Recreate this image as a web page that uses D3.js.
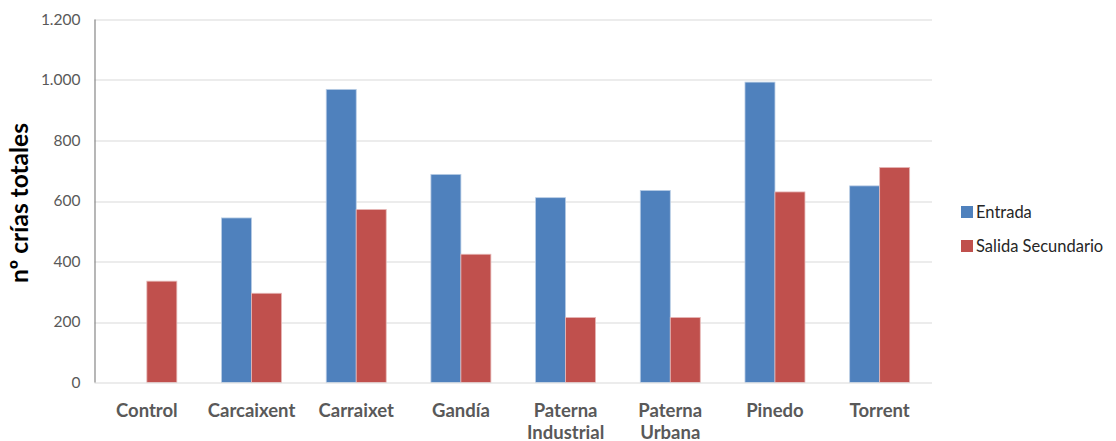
<!DOCTYPE html>
<html>
<head>
<meta charset="utf-8">
<script src="https://cdn.jsdelivr.net/npm/d3@7"></script>
<style>
  html, body { margin: 0; padding: 0; background: #fff; }
  svg { display: block; }
  text { font-family: Lato, "Open Sans", sans-serif; }
</style>
</head>
<body>
<svg id="chart" width="1116" height="441"></svg>
<script>
// Sites sampled and number of offspring per treatment
const categories = ["Control", "Carcaixent", "Carraixet", "Gandía", "Paterna Industrial", "Paterna Urbana", "Pinedo", "Torrent"];
const seriesNames = ["Entrada", "Salida Secundario"];
const entrada = [0, 544, 969, 688, 611, 635, 993, 650];
const salidaSecundario = [335, 295, 572, 424, 215, 215, 630, 711];
const yTicks = [0, 200, 400, 600, 800, 1000, 1200];
const colors = ["#4F81BD", "#C0504D"];

const svg = d3.select("#chart");
const margin = { left: 94.5, right: 1116 - 932, top: 19.5, bottom: 441 - 382.5 };
const width = 1116 - margin.left - margin.right;
const height = 441 - margin.top - margin.bottom;

const g = svg.append("g").attr("transform", `translate(${margin.left},${margin.top})`);

const x = d3.scaleBand().domain(categories).range([0, width]).paddingInner(0.427).paddingOuter(0.2135);
const xs = d3.scaleBand().domain(seriesNames).range([0, x.bandwidth()]);
const y = d3.scaleLinear().domain([0, 1200]).range([height, 0]);

const fmt = d => d3.format(",")(d).replace(/,/g, ".");

// gridlines
g.append("g")
  .selectAll("line")
  .data(yTicks.filter(d => d > 0))
  .join("line")
  .attr("x1", 0).attr("x2", width)
  .attr("y1", d => Math.round(y(d)) + 0.5).attr("y2", d => Math.round(y(d)) + 0.5)
  .attr("stroke", "#d9d9d9").attr("stroke-width", 1.2);

// y axis labels
const yAxis = g.append("g")
  .call(d3.axisLeft(y).tickValues(yTicks).tickFormat(fmt).tickSize(0).tickPadding(14));
yAxis.select(".domain").remove();
yAxis.selectAll("text")
  .attr("fill", "#595959")
  .style("font-size", "15.5px")
  .style("font-family", "Lato, sans-serif");

// bars
const data = categories.map((c, i) => ({ cat: c, values: [entrada[i], salidaSecundario[i]] }));
const groups = g.append("g").selectAll("g")
  .data(data)
  .join("g")
  .attr("transform", d => `translate(${x(d.cat)},0)`);
groups.selectAll("rect")
  .data(d => d.values.map((v, k) => ({ name: seriesNames[k], v, k })).filter(e => e.v > 0))
  .join("rect")
  .attr("x", e => xs(e.name))
  .attr("width", xs.bandwidth())
  .attr("y", e => y(e.v))
  .attr("height", e => height - y(e.v))
  .attr("fill", e => colors[e.k])
  .attr("stroke", e => e.k === 0 ? "#b9cde5" : "#e6b9b8")
  .attr("stroke-width", 0.8);

// axis lines
g.append("line")
  .attr("x1", 0).attr("x2", width)
  .attr("y1", height + 0.5).attr("y2", height + 0.5)
  .attr("stroke", "#d9d9d9").attr("stroke-width", 1.2);
g.append("line")
  .attr("x1", 0.5).attr("x2", 0.5)
  .attr("y1", 0).attr("y2", height)
  .attr("stroke", "#868686").attr("stroke-width", 1.2);

// category labels
const xLabels = g.append("g").selectAll("text")
  .data(categories)
  .join("text")
  .attr("x", d => x(d) + x.bandwidth() / 2)
  .attr("y", height + 34)
  .attr("text-anchor", "middle")
  .attr("fill", "#595959")
  .style("font-size", "18.5px")
  .style("font-weight", "bold");
xLabels.each(function (d) {
  const words = d.split(" ");
  const t = d3.select(this);
  words.forEach((w, i) => {
    t.append("tspan")
      .attr("x", x(d) + x.bandwidth() / 2)
      .attr("dy", i === 0 ? 0 : 22)
      .text(w);
  });
});

// y axis title
svg.append("text")
  .attr("transform", `translate(28,203) rotate(-90)`)
  .attr("text-anchor", "middle")
  .attr("fill", "#000")
  .style("font-size", "24.5px")
  .style("font-weight", "bold")
  .text("nº crías totales");

// legend
const legend = svg.append("g").attr("transform", "translate(961,212)");
const items = legend.selectAll("g")
  .data(seriesNames)
  .join("g")
  .attr("transform", (d, i) => `translate(0,${i * 34})`);
items.append("rect")
  .attr("x", 0).attr("y", -6)
  .attr("width", 12).attr("height", 12)
  .attr("fill", (d, i) => colors[i]);
items.append("text")
  .attr("x", 15).attr("y", 0)
  .attr("dy", "0.35em")
  .attr("fill", "#262626")
  .style("font-size", "16.5px")
  .text(d => d);
</script>
</body>
</html>
